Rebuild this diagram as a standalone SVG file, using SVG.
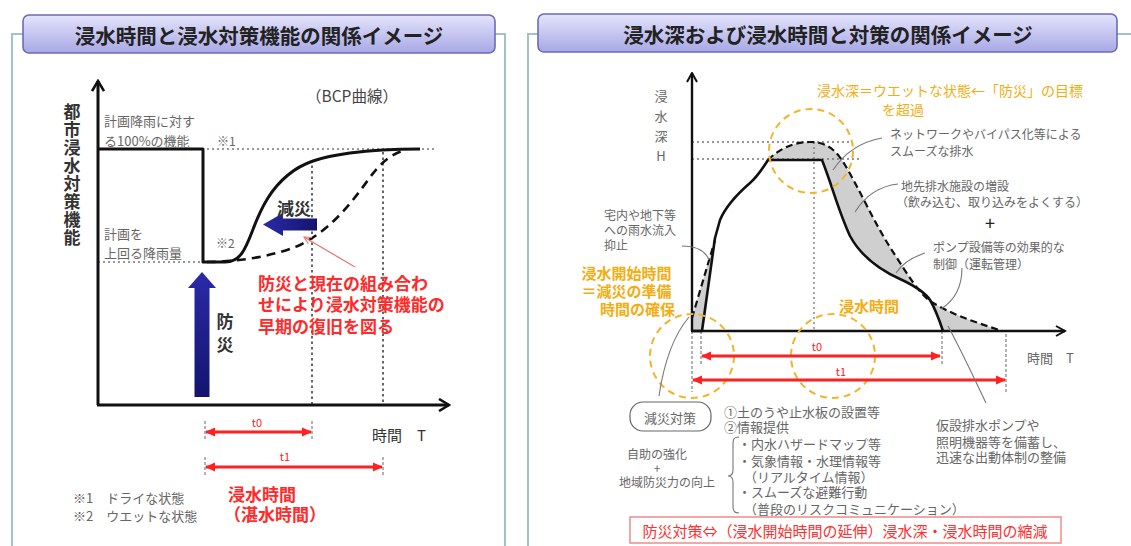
<svg xmlns="http://www.w3.org/2000/svg" width="1131" height="546" viewBox="0 0 1131 546">
<defs>
  <linearGradient id="tg" x1="0" y1="0" x2="0" y2="1">
    <stop offset="0" stop-color="#e4e4fb"/>
    <stop offset="1" stop-color="#a8a8e6"/>
  </linearGradient>
  <linearGradient id="navyH" x1="0" y1="0" x2="1" y2="0">
    <stop offset="0" stop-color="#2a2aa8"/>
    <stop offset="1" stop-color="#14146e"/>
  </linearGradient>
  <linearGradient id="navyV" x1="0" y1="0" x2="0" y2="1">
    <stop offset="0" stop-color="#2a2aa8"/>
    <stop offset="1" stop-color="#14146e"/>
  </linearGradient>
  <marker id="axL" viewBox="0 0 14 14" refX="12" refY="7" markerWidth="14" markerHeight="14" markerUnits="userSpaceOnUse" orient="auto">
    <path d="M2,1 L12,7 L2,13" fill="none" stroke="#111" stroke-width="2.6"/>
  </marker>
  <marker id="axR" viewBox="0 0 12 12" refX="10.5" refY="6" markerWidth="12" markerHeight="12" markerUnits="userSpaceOnUse" orient="auto">
    <path d="M1.5,1 L10.5,6 L1.5,11" fill="none" stroke="#111" stroke-width="2"/>
  </marker>
  <marker id="red" viewBox="0 0 10 10" refX="9" refY="5" markerWidth="10" markerHeight="10" markerUnits="userSpaceOnUse" orient="auto-start-reverse">
    <path d="M0,0.5 L10,5 L0,9.5 z" fill="#ff2020"/>
  </marker>
  <marker id="thin" viewBox="0 0 10 10" refX="9" refY="5" markerWidth="9" markerHeight="9" markerUnits="userSpaceOnUse" orient="auto">
    <path d="M1,1 L9,5 L1,9" fill="none" stroke="#f07070" stroke-width="1.2"/>
  </marker>
</defs>
<style>
  .frame{fill:none;stroke:#a3c2c6;stroke-width:2}
  .tbox{fill:url(#tg);stroke:#6b6bb8;stroke-width:1.6}
  .tt{font-family:"Noto Sans CJK JP","Noto Sans",sans-serif;font-weight:bold;font-size:20.5px;fill:#222}
  .jp{font-family:"Noto Sans CJK JP","Noto Sans",sans-serif}
  .vt{writing-mode:vertical-rl;text-orientation:upright}
  .g{fill:#666;font-size:13px}
  .gs{fill:#666;font-size:12px}
  .bk{fill:#333;font-weight:bold;font-size:17px}
  .rd{fill:#ff2a2a;font-weight:bold;font-size:17px}
  .or{fill:#f2ad12;font-size:14px}
  .orb{fill:#f2ad12;font-weight:bold;font-size:15px}
  .axisL{stroke:#111;stroke-width:3;fill:none}
  .axisR{stroke:#111;stroke-width:2.4;fill:none}
  .dot{stroke:#777;stroke-width:1.3;stroke-dasharray:2 3;fill:none}
  .dotd{stroke:#666;stroke-width:2;stroke-dasharray:2.5 3;fill:none}
  .solid{stroke:#111;stroke-width:3;fill:none;stroke-linejoin:round}
  .dash{stroke:#111;stroke-width:2.6;fill:none;stroke-dasharray:9 6}
  .solidR{stroke:#111;stroke-width:2.6;fill:none;stroke-linejoin:round}
  .dashR{stroke:#111;stroke-width:2.2;fill:none;stroke-dasharray:7 4}
  .dim{stroke:#ff2020;stroke-width:3;fill:none;marker-start:url(#red);marker-end:url(#red)}
  .tick{stroke:#999;stroke-width:1.5;stroke-dasharray:3 2}
  .circ{fill:none;stroke:#f2b42a;stroke-width:2;stroke-dasharray:7 5}
  .lead{fill:none;stroke:#777;stroke-width:1.1}
  .shade{fill:#cfcfcf;stroke:none}
</style>

<!-- LEFT PANEL -->
<g id="left-panel">
  <path class="frame" d="M12,546 V34 H24 M494,34 H505 V546"/>
  <rect class="tbox" x="23" y="15" width="472" height="38" rx="6"/>
  <text class="tt" x="259" y="35" text-anchor="middle" dominant-baseline="central" font-size="21">浸水時間と浸水対策機能の関係イメージ</text>
</g>

<g id="left-chart">
  <!-- guides -->
  <line class="dot" x1="207" y1="149" x2="437" y2="149"/>
  <line class="dot" x1="98" y1="262" x2="203" y2="262"/>
  <line class="dotd" x1="312" y1="160" x2="312" y2="404"/>
  <line class="dotd" x1="383" y1="152" x2="383" y2="404"/>
  <!-- axes -->
  <line class="axisL" x1="98" y1="405" x2="98" y2="81" marker-end="url(#axL)"/>
  <line class="axisL" x1="97" y1="405" x2="449" y2="405" marker-end="url(#axL)"/>
  <!-- curves -->
  <path class="dash" d="M207,262 C235,262 272,257 300,245 C330,230 350,205 368,180 C380,163 392,153 406,150"/>
  <path class="solid" d="M98,149 H203 V262 H225 C240,262 245,250 252,232 C262,205 272,188 288,175 C302,163 320,157 350,153 C380,149 400,149 420,149"/>
  <!-- arrows -->
  <path fill="url(#navyH)" d="M263,224.5 L283,213 L283,218.5 L317,218.5 L317,230.5 L283,230.5 L283,236 Z"/>
  <path fill="url(#navyV)" d="M202,272 L216,288 L209.5,288 L209.5,397 L194.5,397 L194.5,288 L188,288 Z"/>
  <line x1="355" y1="267" x2="304" y2="237" stroke="#f07070" stroke-width="1.2" marker-end="url(#thin)"/>
  <!-- dimension arrows -->
  <line class="tick" x1="205" y1="421" x2="205" y2="441"/>
  <line class="tick" x1="312" y1="421" x2="312" y2="441"/>
  <line class="tick" x1="205" y1="457" x2="205" y2="477"/>
  <line class="tick" x1="383" y1="457" x2="383" y2="477"/>
  <line class="dim" x1="206" y1="432" x2="311" y2="432"/>
  <line class="dim" x1="206" y1="467" x2="382" y2="467"/>
  <!-- texts -->
  <text class="jp bk vt" x="72" y="103" letter-spacing="1">都市浸水対策機能</text>
  <text class="jp" x="306" y="95" dominant-baseline="central" font-size="15.5" fill="#444">（BCP曲線）</text>
  <text class="jp g" x="104" y="120" dominant-baseline="central" font-size="14">計画降雨に対す</text>
  <text class="jp g" x="104" y="140" dominant-baseline="central" font-size="14">る100%の機能</text>
  <text class="jp gs" x="217" y="140" dominant-baseline="central">※1</text>
  <text class="jp g" x="104" y="233" dominant-baseline="central" font-size="14">計画を</text>
  <text class="jp g" x="104" y="252" dominant-baseline="central" font-size="14">上回る降雨量</text>
  <text class="jp gs" x="216" y="242" dominant-baseline="central">※2</text>
  <text class="jp bk" x="277" y="207" dominant-baseline="central">減災</text>
  <text class="jp bk vt" x="225" y="313" letter-spacing="6">防災</text>
  <text class="jp rd" dominant-baseline="central">
    <tspan x="258" y="282">防災と現在の組み合わ</tspan>
    <tspan x="258" y="303">せにより浸水対策機能の</tspan>
    <tspan x="258" y="325">早期の復旧を図る</tspan>
  </text>
  <text class="jp" x="257" y="422" text-anchor="middle" dominant-baseline="central" font-size="11" fill="#ff2020">t0</text>
  <text class="jp" x="285" y="456" text-anchor="middle" dominant-baseline="central" font-size="11" fill="#ff2020">t1</text>
  <text class="jp" x="372" y="434" dominant-baseline="central" font-size="15" fill="#333">時間　T</text>
  <text class="jp g" x="73" y="497" dominant-baseline="central">※1　ドライな状態</text>
  <text class="jp g" x="73" y="515" dominant-baseline="central">※2　ウエットな状態</text>
  <text class="jp rd" x="228" y="493" dominant-baseline="central">浸水時間</text>
  <text class="jp rd" x="224" y="513" dominant-baseline="central">（湛水時間）</text>
</g>

<!-- RIGHT PANEL -->
<g id="right-panel">
  <path class="frame" d="M528,546 V34 H539 M1117,34 H1131"/>
  <rect class="tbox" x="538" y="14" width="579" height="38" rx="6"/>
  <text class="tt" x="828" y="34" text-anchor="middle" dominant-baseline="central">浸水深および浸水時間と対策の関係イメージ</text>
</g>

<g id="right-chart">
  <!-- shaded areas -->
  <path class="shade" d="M692,331 L692,318 L714,242 L702,331 Z"/>
  <path class="shade" d="M768,160 C780,148 795,142 810,142 C825,142 835,148 845,165 C860,190 875,225 895,255 C908,275 918,292 930,301 C950,314 975,322 1002,331 L943,331 C940,322 936,310 930,300 C925,292 915,286 900,279 C880,270 862,258 850,236 C838,210 832,185 822,160 Z"/>
  <!-- guides -->
  <line class="dot" x1="692" y1="142" x2="852" y2="142"/>
  <line class="dot" x1="692" y1="159" x2="861" y2="159"/>
  <line class="dot" x1="814" y1="142" x2="814" y2="330"/>
  <line class="tick" x1="692" y1="331" x2="692" y2="392"/>
  <line class="tick" x1="701" y1="331" x2="701" y2="364"/>
  <line class="tick" x1="942" y1="331" x2="942" y2="364" stroke="#666"/>
  <line class="tick" x1="1006" y1="334" x2="1006" y2="392"/>
  <!-- axes -->
  <line class="axisR" x1="692" y1="331" x2="692" y2="73" marker-end="url(#axR)"/>
  <line class="axisR" x1="691" y1="331" x2="1065" y2="331" marker-end="url(#axR)"/>
  <!-- curves -->
  <path class="dashR" d="M692,318 L715,240 M768,160 C780,148 795,142 810,142 C825,142 835,148 845,165 C860,190 875,225 895,255 C908,275 918,292 930,301 C950,314 975,322 1002,331"/>
  <path class="solidR" d="M692,331 H702 L715,238 L720,220 C725,208 735,196 750,183 C758,176 763,168 768,160 H822 C832,185 838,210 850,236 C862,258 880,270 900,279 C915,286 925,292 930,300 C936,310 940,322 943,331"/>
  <!-- dashed circles -->
  <circle class="circ" cx="811" cy="151" r="42"/>
  <circle class="circ" cx="692" cy="356" r="42"/>
  <circle class="circ" cx="833" cy="356" r="42"/>
  <!-- dimension arrows -->
  <line class="dim" x1="702" y1="356" x2="940" y2="356"/>
  <line class="dim" x1="693" y1="380" x2="1005" y2="380"/>
  <!-- leaders -->
  <path class="lead" d="M882,138 C860,142 845,152 833,170"/>
  <path class="lead" d="M898,184 C880,186 865,196 855,212"/>
  <path class="lead" d="M682,246 C695,246 705,250 709,260"/>
  <path class="lead" d="M925,253 C910,258 901,265 896,273"/>
  <path class="lead" d="M962,268 C962,290 952,302 941,309"/>
  <path class="lead" d="M948,326 C962,352 975,380 986,403"/>
  <path class="lead" d="M689,317 C673,336 664,362 659,396"/>
  <!-- texts -->
  <text class="jp g vt" x="661" y="90" letter-spacing="7" fill="#777">浸水深H</text>
  <text class="jp or" x="817" y="90" dominant-baseline="central">浸水深＝ウエットな状態←「防災」の目標</text>
  <text class="jp or" x="882" y="109" dominant-baseline="central">を超過</text>
  <text class="jp gs" x="890" y="133" dominant-baseline="central">ネットワークやバイパス化等による</text>
  <text class="jp gs" x="890" y="150" dominant-baseline="central">スムーズな排水</text>
  <text class="jp gs" x="901" y="185" dominant-baseline="central">地先排水施設の増設</text>
  <text class="jp gs" x="896" y="201" dominant-baseline="central">（飲み込む、取り込みをよくする）</text>
  <text class="jp" x="990" y="222" text-anchor="middle" dominant-baseline="central" font-size="18" fill="#222">+</text>
  <text class="jp gs" x="933" y="246" dominant-baseline="central">ポンプ設備等の効果的な</text>
  <text class="jp gs" x="933" y="263" dominant-baseline="central">制御（運転管理）</text>
  <text class="jp gs" x="604" y="214" dominant-baseline="central">宅内や地下等</text>
  <text class="jp gs" x="604" y="229" dominant-baseline="central">への雨水流入</text>
  <text class="jp gs" x="604" y="244" dominant-baseline="central">抑止</text>
  <text class="jp orb" text-anchor="end" dominant-baseline="central">
    <tspan x="675" y="272">浸水開始時間</tspan>
    <tspan x="675" y="290">＝減災の準備</tspan>
    <tspan x="675" y="308">時間の確保</tspan>
  </text>
  <text class="jp orb" x="839" y="305" dominant-baseline="central">浸水時間</text>
  <text class="jp" x="817" y="346" text-anchor="middle" dominant-baseline="central" font-size="11" fill="#ff2020">t0</text>
  <text class="jp" x="841" y="371" text-anchor="middle" dominant-baseline="central" font-size="11" fill="#ff2020">t1</text>
  <text class="jp g" x="1027" y="357" dominant-baseline="central">時間　T</text>
</g>

<g id="bottom-notes">
  <rect x="630" y="402" width="81" height="29" rx="13" fill="none" stroke="#666" stroke-width="1.2"/>
  <text class="jp g" x="670" y="417" text-anchor="middle" dominant-baseline="central">減災対策</text>
  <text class="jp gs" x="657" y="453" text-anchor="middle" dominant-baseline="central">自助の強化</text>
  <text class="jp gs" x="657" y="467" text-anchor="middle" dominant-baseline="central">+</text>
  <text class="jp gs" x="667" y="481" text-anchor="middle" dominant-baseline="central">地域防災力の向上</text>
  <text class="jp g" x="724" y="411" dominant-baseline="central">①土のうや止水板の設置等</text>
  <text class="jp g" x="724" y="426" dominant-baseline="central">②情報提供</text>
  <path class="lead" d="M739,437 C733,437 733,440 733,446 V470 C733,474 731,476 728,476 C731,476 733,478 733,482 V506 C733,512 735,513 739,513"/>
  <text class="jp g" dominant-baseline="central">
    <tspan x="738" y="443">・内水ハザードマップ等</tspan>
    <tspan x="738" y="460">・気象情報・水理情報等</tspan>
    <tspan x="744" y="476">（リアルタイム情報）</tspan>
    <tspan x="738" y="491">・スムーズな避難行動</tspan>
    <tspan x="744" y="508">（普段のリスクコミュニケーション）</tspan>
  </text>
  <text class="jp g" dominant-baseline="central">
    <tspan x="936" y="424">仮設排水ポンプや</tspan>
    <tspan x="936" y="441">照明機器等を備蓄し、</tspan>
    <tspan x="936" y="456">迅速な出動体制の整備</tspan>
  </text>
  <rect x="630" y="517" width="431" height="26" fill="none" stroke="#f08a8a" stroke-width="1.5"/>
  <text class="jp" x="845" y="530" text-anchor="middle" dominant-baseline="central" font-size="15" fill="#ff3030">防災対策⇔（浸水開始時間の延伸）浸水深・浸水時間の縮減</text>
</g>
</svg>
